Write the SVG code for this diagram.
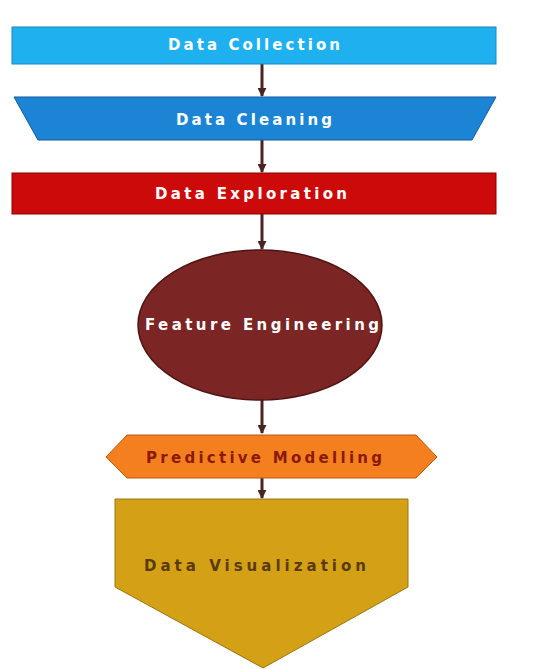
<svg xmlns="http://www.w3.org/2000/svg" width="542" height="669" viewBox="0 0 542 669">
<defs>
<style>
.t{font-family:"DejaVu Sans","Liberation Sans",sans-serif;font-weight:bold;font-size:15px;text-anchor:middle;dominant-baseline:central}
.w{fill:#ffffff}
.c{stroke:#4a2424;stroke-width:3;fill:none}
</style>
<marker id="ah" viewBox="0 0 10 10" refX="9" refY="5" markerWidth="3" markerHeight="3" orient="auto"><path d="M0,0 L10,5 L0,10 z" fill="#4a2424"/></marker>
</defs>
<rect width="542" height="669" fill="#ffffff"/>
<g id="connectors">
<line class="c" x1="262" y1="64" x2="262" y2="96" marker-end="url(#ah)"/>
<line class="c" x1="262" y1="140" x2="262" y2="172" marker-end="url(#ah)"/>
<line class="c" x1="262" y1="214" x2="262" y2="249" marker-end="url(#ah)"/>
<line class="c" x1="262" y1="400" x2="262" y2="433" marker-end="url(#ah)"/>
<line class="c" x1="262" y1="478" x2="262" y2="498" marker-end="url(#ah)"/>
</g>
<g id="data-collection">
<rect x="12" y="27" width="484" height="37" fill="#1fb1ef" stroke="#1a86c0" stroke-width="1"/>
<text class="t w" x="254" y="45" textLength="172" lengthAdjust="spacing">Data Collection</text>
</g>
<g id="data-cleaning">
<polygon points="14,97 496,97 472,140 38,140" fill="#1c84d4" stroke="#135c9a" stroke-width="1"/>
<text class="t w" x="254" y="120" textLength="156" lengthAdjust="spacing">Data Cleaning</text>
</g>
<g id="data-exploration">
<rect x="12" y="173" width="484" height="41" fill="#cc0a0a" stroke="#8a0000" stroke-width="1"/>
<text class="t w" x="251" y="194" textLength="192" lengthAdjust="spacing">Data Exploration</text>
</g>
<g id="feature-engineering">
<ellipse cx="260" cy="325" rx="122" ry="75" fill="#7b2525" stroke="#4e1414" stroke-width="1.5"/>
<text class="t w" x="262" y="325" textLength="234" lengthAdjust="spacing">Feature Engineering</text>
</g>
<g id="predictive-modelling">
<polygon points="106,457 127,435 416,435 437,457 416,478 127,478" fill="#f47f1f" stroke="#b85a10" stroke-width="1"/>
<text class="t" x="264" y="458" fill="#8a1a05" textLength="236" lengthAdjust="spacing">Predictive Modelling</text>
</g>
<g id="data-visualization">
<polygon points="115,499 408,499 408,587 263,668 115,587" fill="#d3a016" stroke="#9a7410" stroke-width="1"/>
<text class="t" x="255" y="566" fill="#5a3a10" textLength="222" lengthAdjust="spacing">Data Visualization</text>
</g>
</svg>
